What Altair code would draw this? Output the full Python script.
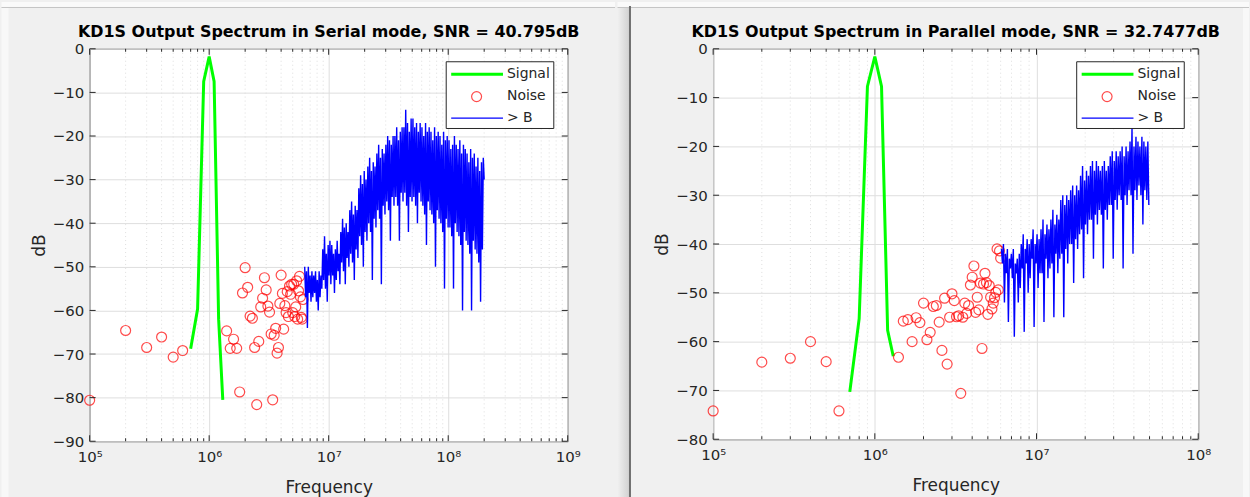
import math
import altair as alt
import numpy as np
import pandas as pd

FONT = "DejaVu Sans"
INK = "#262626"
GRID = "#dedede"
BLUE = "#0000ff"
FIG_BG = "#f0f0f0"
SERIES = ["Signal", "Noise", "> B"]

# ---------------- Serial mode ----------------
serial_title = "KD1S Output Spectrum in Serial mode, SNR = 40.795dB"
serial_sig_f = [7e5, 8e5, 9e5, 1.0e6, 1.1e6, 1.2e6, 1.3e6]
serial_sig_db = [-68.8, -59.7, -7.5, -1.8, -7.5, -62.0, -80.5]

serial_noise_bins = list(range(1, 7)) + list(range(14, 62))  # multiples of 100 kHz
serial_noise_db = [
    -80.6, -64.6, -68.5, -66.1, -70.7, -69.2,
    -64.7, -68.7, -66.6, -68.7, -78.7, -56.0,
    -50.2, -54.7, -61.3, -61.8, -68.5, -81.6, -67.1, -59.2, -57.2, -52.5,
    -55.3, -59.0, -60.4, -65.4, -80.5, -65.7, -64.1, -69.8, -68.5, -58.4,
    -51.9, -56.1, -64.3, -58.9, -60.5, -55.7, -61.4, -54.4, -56.3, -54.0,
    -60.5, -54.0, -61.4, -59.2, -53.2, -62.0, -55.5, -52.2, -56.9, -61.6,
    -62.0, -57.5,
]

# out-of-band spectrum (> B), read at log-spaced frequencies
serial_band_range = (6.3e6, 2.0e8)
serial_band_db = [
    -50, -57, -51, -64, -50, -56, -52, -58, -51, -57,
    -52, -56, -51, -58, -53, -60, -51, -57, -52, -55,
    -46, -53, -43, -55, -47, -58, -45, -52, -44, -54,
    -45, -52, -47, -56, -46, -53, -44, -51, -47, -54,
    -42, -49, -39, -51, -41, -54, -40, -48, -42, -50,
    -37, -47, -35, -49, -38, -53, -36, -46, -37, -48,
    -32, -43, -29, -45, -31, -50, -28, -42, -30, -44,
    -27, -40, -25, -42, -28, -53, -26, -39, -27, -41,
    -24, -37, -22, -39, -25, -54, -23, -36, -24, -38,
    -22, -35, -20, -37, -21, -44, -22, -34, -20, -36,
    -20, -34, -18, -36, -21, -44, -19, -33, -18, -35,
    -18, -33, -14, -36, -17, -42, -19, -34, -16, -35,
    -16, -34, -18, -36, -17, -40, -19, -33, -17, -35,
    -18, -36, -20, -38, -17, -45, -19, -35, -18, -37,
    -19, -38, -21, -40, -18, -50, -20, -37, -19, -39,
    -20, -40, -22, -42, -19, -55, -21, -39, -20, -41,
    -21, -41, -23, -43, -22, -55, -20, -40, -22, -42,
    -23, -43, -21, -45, -24, -60, -22, -42, -23, -44,
    -24, -45, -26, -47, -23, -60, -25, -44, -24, -46,
    -27, -47, -25, -49, -28, -58, -26, -46, -25, -30,
]

# ---------------- Parallel mode ----------------
parallel_title = "KD1S Output Spectrum in Parallel mode, SNR = 32.7477dB"
parallel_sig_f = [7e5, 8e5, 9e5, 1.0e6, 1.1e6, 1.2e6, 1.3e6]
parallel_sig_db = [-70.3, -55.3, -7.7, -1.6, -7.7, -57.7, -63.0]

parallel_noise_bins = list(range(1, 7)) + list(range(14, 61))
parallel_noise_db = [
    -74.2, -64.2, -63.4, -60.0, -64.1, -74.2,
    -63.2, -55.8, -55.5, -60.0, -55.1, -56.1,
    -52.1, -59.6, -58.1, -52.8, -52.6, -56.0, -61.8, -51.1, -64.6, -55.0,
    -50.2, -51.6, -54.9, -54.7, -70.6, -55.0, -52.1, -54.2, -52.6, -48.4,
    -46.8, -44.5, -54.0, -50.9, -53.5, -48.0, -61.4, -48.2, -46.0, -47.9,
    -54.4, -48.5, -50.9, -53.3, -52.1, -51.0, -49.9, -41.0, -49.4, -41.4,
    -42.9,
]

parallel_band_range = (6.07e6, 4.95e7)
parallel_band_db = [
    -41, -44, -40, -52, -42, -46, -41, -56, -43, -45,
    -42, -47, -41, -59, -44, -46, -43, -52, -42, -49,
    -40, -45, -38, -58, -41, -44, -39, -50, -40, -47,
    -39, -43, -37, -57, -40, -44, -38, -49, -39, -46,
    -37, -46, -35, -56, -38, -43, -36, -47, -37, -45,
    -35, -44, -33, -55, -36, -42, -34, -46, -35, -43,
    -31, -42, -30, -55, -32, -41, -30, -44, -31, -40,
    -29, -40, -28, -48, -30, -39, -28, -41, -29, -38,
    -26, -37, -24, -47, -27, -36, -25, -38, -26, -35,
    -24, -35, -23, -43, -25, -34, -23, -36, -24, -33,
    -25, -34, -24, -45, -23, -33, -25, -35, -24, -32,
    -22, -32, -21, -43, -23, -31, -21, -33, -22, -30,
    -21, -31, -20, -45, -22, -30, -20, -32, -21, -29,
    -19, -30, -16, -42, -20, -29, -18, -31, -19, -28,
    -20, -30, -18, -36, -19, -29, -20, -31, -19, -32,
]

SUPER = "['\u2070','\u00b9','\u00b2','\u00b3','\u2074','\u2075','\u2076','\u2077','\u2078','\u2079']"
POW_LABEL = "'10' + " + SUPER + "[round(log(datum.value) / LN10)]"

TOP = 47      # space above each plot box
FULL_H = 497  # figure height


def one(s):
    return pd.DataFrame({"label": [s]})


def box(x0, x1, y0, y1, **style):
    """A rectangle placed in pixel units relative to the plot box."""
    return alt.Chart(one("frame")).mark_rect(strokeWidth=0, **style).encode(
        x=alt.value(x0), x2=alt.value(x1), y=alt.value(y0), y2=alt.value(y1))


def panel(title, sig_f, sig_db, noise_bins, noise_db, band_range, band_db,
          xmax, ymin, w, h, leg_x, frame_left, frame_right, separator=False):
    xs = alt.Scale(type="log", domain=[1e5, xmax], nice=False)
    ys = alt.Scale(domain=[ymin, 0], nice=False)
    top_exp = int(round(math.log10(xmax)))
    decades = [10.0 ** e for e in range(5, top_exp + 1)]
    minor = [k * 10.0 ** e for e in range(5, top_exp) for k in range(2, 10)]
    yticks = list(range(ymin, 1, 10))

    x_axis = alt.Axis(values=decades, labelExpr=POW_LABEL, title="Frequency",
                      grid=True, ticks=False, domain=False, labelPadding=8,
                      titlePadding=15, labelFlush=False)
    y_axis = alt.Axis(values=yticks, title="dB", grid=True, ticks=False,
                      domain=False, labelPadding=6, titlePadding=4)

    sig = pd.DataFrame({"f": sig_f, "db": sig_db})
    noise = pd.DataFrame({"f": [b * 1e5 for b in noise_bins], "db": noise_db})
    band = pd.DataFrame({"f": np.geomspace(band_range[0], band_range[1], len(band_db)),
                         "db": band_db})

    X = lambda: alt.X("f:Q", scale=xs, axis=x_axis)
    Y = lambda: alt.Y("db:Q", scale=ys, axis=y_axis)

    minor_grid = alt.Chart(pd.DataFrame({"f": minor})).mark_rule(
        color=GRID, strokeDash=[1, 3], strokeWidth=1
    ).encode(x=X())

    sig_line = alt.Chart(sig).mark_line(color="#00ff00", strokeWidth=3).encode(x=X(), y=Y())
    noise_pts = alt.Chart(noise).mark_point(
        shape="circle", filled=False, color="#ff0000", size=100, strokeWidth=1.2
    ).encode(x=X(), y=Y())
    band_line = alt.Chart(band).mark_line(color=BLUE, strokeWidth=1.4).encode(x=X(), y=Y())

    # inward ticks on all four sides of the box
    maj = pd.DataFrame({"f": decades})
    mnr = pd.DataFrame({"f": minor})
    yv = pd.DataFrame({"db": yticks})
    tick = dict(color=INK, strokeWidth=1)
    ticks = [
        alt.Chart(maj).mark_rule(**tick).encode(x=X(), y=alt.value(h), y2=alt.value(h - 6)),
        alt.Chart(maj).mark_rule(**tick).encode(x=X(), y=alt.value(0), y2=alt.value(6)),
        alt.Chart(mnr).mark_rule(**tick).encode(x=X(), y=alt.value(h), y2=alt.value(h - 3)),
        alt.Chart(mnr).mark_rule(**tick).encode(x=X(), y=alt.value(0), y2=alt.value(3)),
        alt.Chart(yv).mark_rule(**tick).encode(y=Y(), x=alt.value(0), x2=alt.value(6)),
        alt.Chart(yv).mark_rule(**tick).encode(y=Y(), x=alt.value(w), x2=alt.value(w - 6)),
    ]

    # legend box
    lx, ly = leg_x, 13
    rows = [ly + 12.5, ly + 35, ly + 56.5]
    legend = [
        alt.Chart(one("box")).mark_rect(fill="white", stroke=INK, strokeWidth=1).encode(
            x=alt.value(lx), x2=alt.value(lx + 108), y=alt.value(ly), y2=alt.value(ly + 67)),
        alt.Chart(one(SERIES[0])).mark_rule(color="#00ff00", strokeWidth=3).encode(
            x=alt.value(lx + 5), x2=alt.value(lx + 57), y=alt.value(rows[0])),
        alt.Chart(one(SERIES[1])).mark_point(shape="circle", filled=False, color="#ff0000",
                                             size=100, strokeWidth=1.2).encode(
            x=alt.value(lx + 30.5), y=alt.value(rows[1])),
        alt.Chart(one(SERIES[2])).mark_rule(stroke=BLUE, strokeWidth=1.2).encode(
            x=alt.value(lx + 5), x2=alt.value(lx + 57), y=alt.value(rows[2])),
        alt.Chart(pd.DataFrame({"label": SERIES, "row": [r - 0.5 for r in rows]})).mark_text(
            align="left", baseline="middle", font=FONT, fontSize=14, color=INK
        ).encode(x=alt.value(lx + 61), y=alt.Y("row:Q", scale=None), text="label:N"),
    ]

    heading = alt.Chart(one(title)).mark_text(
        align="center", baseline="middle", font=FONT, fontSize=16, fontWeight="bold",
        color="#000000"
    ).encode(x=alt.value(w / 2), y=alt.value(-17), text="label:N")

    # window chrome around the plot: light top strip and edges
    bottom = FULL_H - TOP
    chrome = [
        box(frame_left, frame_right, -TOP, -TOP + 5, fill="#fafafa"),
        alt.Chart(one("edge")).mark_rule(color="#c4c4c4", strokeWidth=1).encode(
            x=alt.value(frame_left), x2=alt.value(frame_right), y=alt.value(-TOP + 5.5)),
    ]
    if separator:
        chrome += [
            box(frame_left, frame_left + 11.5, -TOP + 6, bottom, fill={
                "gradient": "linear", "x1": 0, "x2": 1, "y1": 0, "y2": 0,
                "stops": [{"offset": 0, "color": FIG_BG}, {"offset": 1, "color": "#d2d2d2"}]}),
            alt.Chart(one("sep")).mark_rule(color="#6f6f6f", strokeWidth=2).encode(
                x=alt.value(frame_left + 12.5), y=alt.value(-TOP + 4), y2=alt.value(bottom)),
            box(frame_right - 6, frame_right, -TOP + 6, bottom, fill="#f8f8f8"),
        ]
    else:
        chrome += [box(frame_left, frame_left + 7, -TOP + 6, bottom, fill="#f8f8f8")]

    return alt.layer(*chrome, minor_grid, sig_line, noise_pts, band_line,
                     *ticks, *legend, heading).properties(width=w, height=h)


left = panel(serial_title, serial_sig_f, serial_sig_db, serial_noise_bins, serial_noise_db,
             serial_band_range, serial_band_db, 1e9, -90, 480, 394, 358,
             frame_left=-88.5, frame_right=527.5)
right = panel(parallel_title, parallel_sig_f, parallel_sig_db, parallel_noise_bins,
              parallel_noise_db, parallel_band_range, parallel_band_db, 1e8, -80, 487, 392, 365,
              frame_left=-96, frame_right=538, separator=True)

chart = alt.hconcat(left, right, spacing=0).properties(
    padding=0,
    background=FIG_BG,
).configure_view(
    stroke=INK, strokeWidth=1, fill="white"
).configure_axis(
    labelFont=FONT, labelFontSize=15, labelColor=INK,
    titleFont=FONT, titleFontSize=17, titleFontWeight="normal", titleColor=INK,
    gridColor=GRID, gridWidth=1,
).configure_concat(spacing=0)

chart.save("out.html", embed_options={"renderer": "svg", "actions": False})
